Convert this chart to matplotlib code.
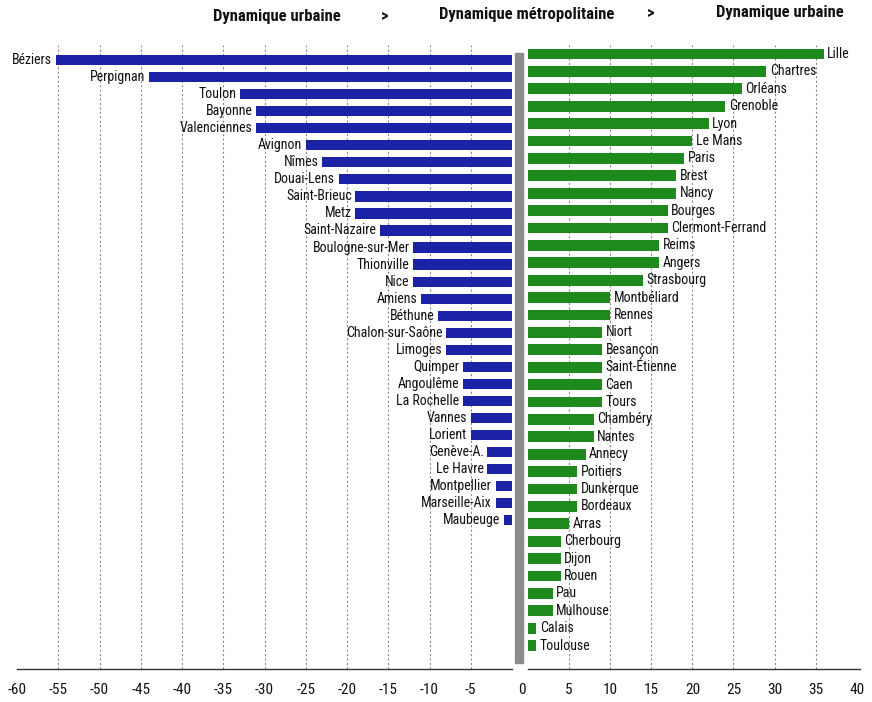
import matplotlib
matplotlib.use("Agg")
import matplotlib.pyplot as plt
from matplotlib.patches import Rectangle
from matplotlib import font_manager

available = {f.name for f in font_manager.fontManager.ttflist}
fams = [f for f in ['Roboto Condensed', 'Open Sans Condensed', 'Liberation Sans Narrow', 'Roboto'] if f in available]
plt.rcParams['font.family'] = fams + ['DejaVu Sans']

# Left panel (negative values)
left_cities = ["Béziers", "Perpignan", "Toulon", "Bayonne", "Valenciennes", "Avignon",
               "Nîmes", "Douai-Lens", "Saint-Brieuc", "Metz", "Saint-Nazaire",
               "Boulogne-sur-Mer", "Thionville", "Nice", "Amiens", "Béthune",
               "Chalon-sur-Saône", "Limoges", "Quimper", "Angoulême", "La Rochelle",
               "Vannes", "Lorient", "Genève-A.", "Le Havre", "Montpellier",
               "Marseille-Aix", "Maubeuge"]
left_values = [-55.3, -44, -33, -31, -31, -25, -23, -21, -19, -19, -16, -12, -12, -12,
               -11, -9, -8, -8, -6, -6, -6, -5, -5, -3, -3, -2, -2, -1]

# Right panel (positive values)
right_cities = ["Lille", "Chartres", "Orléans", "Grenoble", "Lyon", "Le Mans", "Paris",
                "Brest", "Nancy", "Bourges", "Clermont-Ferrand", "Reims", "Angers",
                "Strasbourg", "Montbéliard", "Rennes", "Niort", "Besançon",
                "Saint-Étienne", "Caen", "Tours", "Chambéry", "Nantes", "Annecy",
                "Poitiers", "Dunkerque", "Bordeaux", "Arras", "Cherbourg", "Dijon",
                "Rouen", "Pau", "Mulhouse", "Calais", "Toulouse"]
right_values = [36, 29, 26, 24, 22, 20, 19, 18, 18, 17, 17, 16, 16, 14, 10, 10, 9, 9,
                9, 9, 9, 8, 8, 7, 6, 6, 6, 5, 4, 4, 4, 3, 3, 1, 1]

left_ticks = [-60, -55, -50, -45, -40, -35, -30, -25, -20, -15, -10, -5]
right_ticks = [5, 10, 15, 20, 25, 30, 35, 40]

headers = ["Dynamique urbaine", ">", "Dynamique métropolitaine", ">", "Dynamique urbaine"]

BLUE = "#1b22a6"
GREEN = "#1e8a1e"
W, H = 872, 702
LABEL_FS = 10
TICK_FS = 11

fig = plt.figure(figsize=(W / 100, H / 100), dpi=100)
fig.patch.set_facecolor("white")


def px_axes(x0, x1, ytop, ybot):
    return fig.add_axes([x0 / W, 1 - ybot / H, (x1 - x0) / W, (ybot - ytop) / H])


axL = px_axes(17, 512, 45, 669)
axR = px_axes(528, 860, 45, 669)

# Left
yl = list(range(len(left_cities)))
axL.barh(yl, left_values, height=0.6, color=BLUE, zorder=3)
axL.set_xlim(-59.7, 0)
axL.set_ylim(35.72, -0.88)
for y, v, c in zip(yl, left_values, left_cities):
    axL.annotate(c, (v, y), xytext=(-2.5, 0), textcoords="offset points",
                 ha="right", va="center", fontsize=LABEL_FS, color="#111111", zorder=4)
axL.set_xticks(left_ticks)
axL.set_xticklabels([str(t) for t in left_ticks])
for t in left_ticks[1:]:
    axL.axvline(t, color="#8a8a8a", lw=0.8, ls=(0, (2, 2)), zorder=1)

# Right
yr = list(range(len(right_cities)))
axR.barh(yr, right_values, height=0.62, color=GREEN, zorder=3)
axR.set_xlim(0, 40.4)
axR.set_ylim(35.34, -0.52)
for y, v, c in zip(yr, right_values, right_cities):
    axR.annotate(c, (v, y), xytext=(2.5, 0), textcoords="offset points",
                 ha="left", va="center", fontsize=LABEL_FS, color="#111111", zorder=4)
axR.set_xticks(right_ticks)
axR.set_xticklabels([str(t) for t in right_ticks])
for t in right_ticks[:-1]:
    axR.axvline(t, color="#8a8a8a", lw=0.8, ls=(0, (2, 2)), zorder=1)

for ax in (axL, axR):
    ax.set_facecolor("none")
    for s in ("top", "right", "left"):
        ax.spines[s].set_visible(False)
    ax.spines["bottom"].set_color("#333333")
    ax.spines["bottom"].set_linewidth(1.0)
    ax.set_yticks([])
    ax.tick_params(axis="x", length=0, pad=10, labelsize=TICK_FS, labelcolor="#111111")

# Grey separator and central zero
fig.add_artist(Rectangle((515 / W, 1 - 663 / H), 8 / W, 610 / H,
                         transform=fig.transFigure, color="#8c8c8c", zorder=5))
fig.text(522 / W, 1 - 690 / H, "0", ha="center", va="center", fontsize=TICK_FS, color="#111111")

# Headers
hx = [277, 385, 527, 651, 780]
hy = [16, 16, 15, 13, 12]
for x, y, t in zip(hx, hy, headers):
    fig.text(x / W, 1 - y / H, t, ha="center", va="center", fontsize=12,
             fontweight="bold", color="#111111")

fig.savefig("out.png", dpi=100, facecolor="white")
